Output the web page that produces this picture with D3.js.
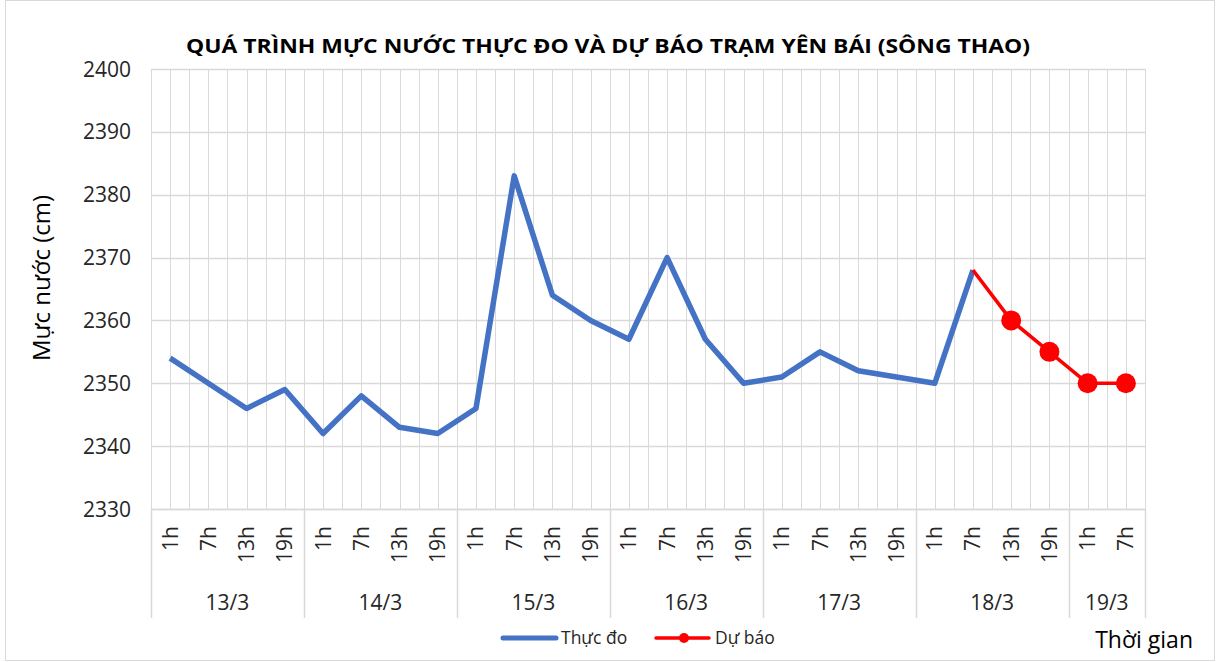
<!DOCTYPE html>
<html>
<head>
<meta charset="utf-8">
<script src="https://cdn.jsdelivr.net/npm/d3@7"></script>
<style>
    body { margin: 0; background: #fff; }
    text { font-family: "Open Sans", sans-serif; fill: #262626; }
</style>
</head>
<body>
<div id="chart"></div>
<script>
// data
var days = ["13/3", "14/3", "15/3", "16/3", "17/3", "18/3", "19/3"];
var hours = ["1h", "7h", "13h", "19h"];
var hoursLastDay = ["1h", "7h"];
var measured = [2354, 2350, 2346, 2349, 2342, 2348, 2343, 2342,
    2346, 2383, 2364, 2360, 2357, 2370, 2357, 2350,
    2351, 2355, 2352, 2351, 2350, 2368];
// forecast starts at 18/3 7h
var forecastStart = 21;
var forecast = [2368, 2360, 2355, 2350, 2350];
var yTicks = [2330, 2340, 2350, 2360, 2370, 2380, 2390, 2400];

function buildCategories() {
    "use strict";
    var cats = [];
    days.forEach(function(day, i) {
        var hs = i === days.length - 1 ? hoursLastDay : hours;
        hs.forEach(function(h) {
            cats.push({ key: day + " " + h, day: day, hour: h });
        });
    });
    return cats;
}

function drawChart() {
    "use strict";
    var width = 1217, height = 662;
    var left = 151, right = 1145, top = 69, bottom = 509;
    var cats = buildCategories();

    var svg = d3.select("#chart").append("svg")
        .attr("width", width)
        .attr("height", height);

    // outer chart border
    svg.append("rect")
        .attr("x", 5.5).attr("y", 0.5)
        .attr("width", 1209).attr("height", 660)
        .attr("fill", "#fff")
        .attr("stroke", "#d9d9d9");

    var x = d3.scaleBand()
        .domain(cats.map(function(c) { return c.key; }))
        .range([left, right])
        .padding(0);
    var bw = x.bandwidth();
    var y = d3.scaleLinear().domain([2330, 2400]).range([bottom, top]);
    var cx = function(i) { return x(cats[i].key) + bw / 2; };

    // vertical grid (band edges and centres)
    var vx = [];
    cats.forEach(function(c) {
        vx.push(x(c.key));
        vx.push(x(c.key) + bw / 2);
    });
    vx.push(right);
    svg.append("g").selectAll("line")
        .data(vx)
        .enter().append("line")
        .attr("x1", function(d) { return Math.round(d) + 0.5; })
        .attr("x2", function(d) { return Math.round(d) + 0.5; })
        .attr("y1", top).attr("y2", bottom)
        .attr("stroke", "#d9d9d9").attr("stroke-width", 1);

    // horizontal grid
    svg.append("g").selectAll("line")
        .data(yTicks)
        .enter().append("line")
        .attr("x1", left).attr("x2", right)
        .attr("y1", function(d) { return Math.round(y(d)) + 0.5; })
        .attr("y2", function(d) { return Math.round(y(d)) + 0.5; })
        .attr("stroke", "#d9d9d9").attr("stroke-width", 1.3);

    // y tick labels
    svg.append("g").selectAll("text")
        .data(yTicks)
        .enter().append("text")
        .attr("x", 131)
        .attr("y", function(d) { return y(d) + 7.5; })
        .attr("text-anchor", "end")
        .style("font-size", "21px")
        .text(function(d) { return d; });

    // day separators in the axis area
    var bounds = [left];
    days.forEach(function(day) {
        var last = cats.filter(function(c) { return c.day === day; }).pop();
        bounds.push(x(last.key) + bw);
    });
    svg.append("g").selectAll("line")
        .data(bounds)
        .enter().append("line")
        .attr("x1", function(d) { return Math.round(d) + 0.5; })
        .attr("x2", function(d) { return Math.round(d) + 0.5; })
        .attr("y1", bottom).attr("y2", 618)
        .attr("stroke", "#d9d9d9").attr("stroke-width", 1.5);

    // hour labels
    svg.append("g").selectAll("text")
        .data(cats)
        .enter().append("text")
        .attr("text-anchor", "end")
        .attr("transform", function(d, i) {
            return "translate(" + (cx(i) + 7.5) + ",526) rotate(-90)";
        })
        .style("font-size", "21px")
        .text(function(d) { return d.hour; });

    // day labels
    svg.append("g").selectAll("text")
        .data(days)
        .enter().append("text")
        .attr("x", function(d, i) { return (bounds[i] + bounds[i + 1]) / 2; })
        .attr("y", 610)
        .attr("text-anchor", "middle")
        .style("font-size", "21px")
        .text(function(d) { return d; });

    // axis line
    svg.append("line")
        .attr("x1", left).attr("x2", right)
        .attr("y1", bottom + 0.5).attr("y2", bottom + 0.5)
        .attr("stroke", "#d9d9d9").attr("stroke-width", 1.5);

    // lines
    var line = d3.line()
        .x(function(d) { return cx(d.i); })
        .y(function(d) { return y(d.v); });
    var measuredPts = measured.map(function(v, i) { return { i: i, v: v }; });
    var forecastPts = forecast.map(function(v, i) {
        return { i: forecastStart + i, v: v };
    });

    svg.append("path")
        .datum(measuredPts)
        .attr("d", line)
        .attr("fill", "none")
        .attr("stroke", "#4472c4")
        .attr("stroke-width", 5.5)
        .attr("stroke-linejoin", "round");

    svg.append("path")
        .datum(forecastPts)
        .attr("d", line)
        .attr("fill", "none")
        .attr("stroke", "#ff0000")
        .attr("stroke-width", 3.5)
        .attr("stroke-linejoin", "round");

    svg.append("g").selectAll("circle")
        .data(forecastPts.slice(1))
        .enter().append("circle")
        .attr("cx", function(d) { return cx(d.i); })
        .attr("cy", function(d) { return y(d.v); })
        .attr("r", 10)
        .attr("fill", "#ff0000");

    // title
    svg.append("text")
        .attr("x", 608).attr("y", 53)
        .attr("text-anchor", "middle")
        .attr("textLength", 844)
        .attr("lengthAdjust", "spacingAndGlyphs")
        .style("font-size", "20px")
        .style("font-weight", "bold")
        .style("fill", "#000")
        .text("QUÁ TRÌNH MỰC NƯỚC THỰC ĐO VÀ DỰ BÁO TRẠM YÊN BÁI (SÔNG THAO)");

    // y axis title
    svg.append("text")
        .attr("transform", "translate(50,278) rotate(-90)")
        .attr("text-anchor", "middle")
        .style("font-size", "24px")
        .style("fill", "#000")
        .text("Mực nước (cm)");

    // x axis title
    svg.append("text")
        .attr("x", 1193).attr("y", 648)
        .attr("text-anchor", "end")
        .style("font-size", "23px")
        .style("fill", "#000")
        .text("Thời gian");

    // legend
    var lg = svg.append("g");
    lg.append("line")
        .attr("x1", 503).attr("x2", 556).attr("y1", 638).attr("y2", 638)
        .attr("stroke", "#4472c4").attr("stroke-width", 5)
        .attr("stroke-linecap", "round");
    lg.append("text")
        .attr("x", 561).attr("y", 644)
        .style("font-size", "17.5px")
        .text("Thực đo");
    lg.append("line")
        .attr("x1", 656).attr("x2", 709).attr("y1", 638).attr("y2", 638)
        .attr("stroke", "#ff0000").attr("stroke-width", 3.5)
        .attr("stroke-linecap", "round");
    lg.append("circle")
        .attr("cx", 684).attr("cy", 638).attr("r", 5)
        .attr("fill", "#ff0000");
    lg.append("text")
        .attr("x", 715).attr("y", 644)
        .style("font-size", "17.5px")
        .text("Dự báo");
}

drawChart();
</script>
</body>
</html>
